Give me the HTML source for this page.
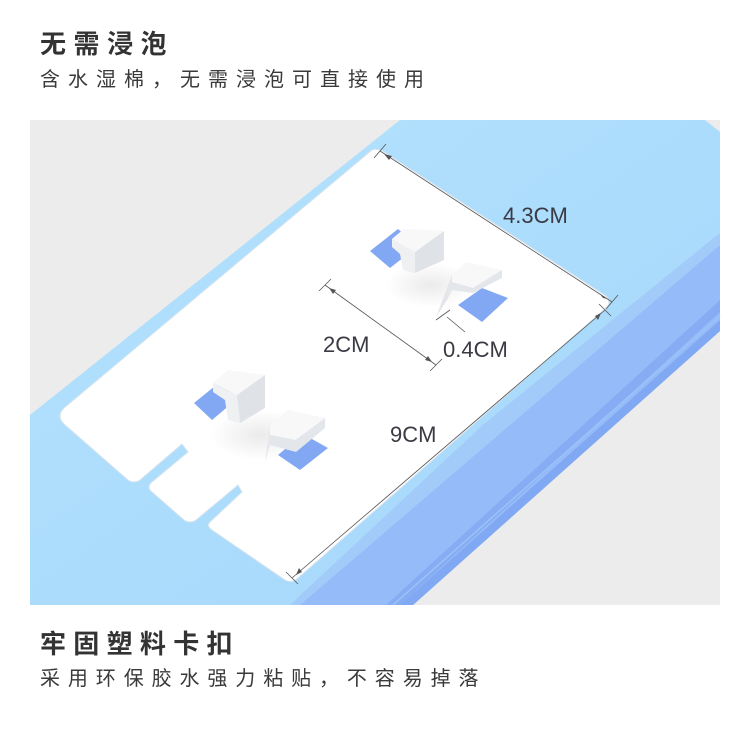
<!DOCTYPE html>
<html><head><meta charset="utf-8"><style>
html,body{margin:0;padding:0;background:#fff;width:750px;height:752px;overflow:hidden;position:relative;font-family:"Liberation Sans","Noto Sans CJK SC",sans-serif;color:#333}
.t{position:absolute;left:40px;font-weight:bold;font-size:26px;line-height:1;white-space:nowrap}
.s{position:absolute;left:40px;font-size:20px;line-height:1;white-space:nowrap;color:#3a3a3a}
svg{position:absolute;left:0;top:0}
</style></head><body>
<svg width="750" height="752" viewBox="0 0 750 752">
<defs>
<linearGradient id="tf" x1="0" y1="0" x2="1" y2="1"><stop offset="0" stop-color="#b3e3fc"/><stop offset="1" stop-color="#a6d6fb"/></linearGradient>
<radialGradient id="sh" cx="0.5" cy="0.5" r="0.5"><stop offset="0" stop-color="#000" stop-opacity="0.08"/><stop offset="1" stop-color="#000" stop-opacity="0"/></radialGradient>
</defs>
<rect x="30" y="120" width="690" height="485" fill="#ececec"/>
<!-- top face -->
<polygon points="400,120 705,120 720,132 720,240 290,605 30,605 30,415" fill="url(#tf)"/>
<!-- side face -->
<polygon points="720,233 720,331 413,605 290,605 483,425" fill="#95bcf8"/>
<polygon points="720,233 720,245 300,605 290,605 483,425" fill="#a3cbfa"/>
<polygon points="720,300 720,312 400,605 386,605" fill="#86adf3"/>
<polygon points="720,320 720,331 413,605 400,605" fill="#81a8f2"/>
<line x1="720" y1="316" x2="393" y2="605" stroke="#9cc2f8" stroke-width="1.5"/>
<!-- plate -->
<path d="M372,150 Q378,148 384,152 L606,296 Q612,302 606,308 L298,578 Q292,584 285,580 L212,530 Q206,526 210,522 L242,492 L238,485 L196,520 Q190,524 184,520 L152,492 Q146,487 152,482 L188,452 L182,444 L140,480 Q134,484 128,480 L64,424 Q56,416 64,408 Z" fill="#fff" stroke="#d8e4ee" stroke-width="1"/>
<!-- shadows -->
<ellipse cx="430" cy="285" rx="45" ry="22" fill="url(#sh)"/>
<ellipse cx="260" cy="435" rx="50" ry="25" fill="url(#sh)"/>
<!-- slots -->
<polygon points="370,251 398,229 418,246 390,268" fill="#82a8f4"/>
<polygon points="458,305 482,288 508,298 482,322" fill="#82a8f4"/>
<polygon points="194,403 220,382 238,398 212,420" fill="#82a8f4"/>
<polygon points="278,455 303,434 328,448 300,470" fill="#82a8f4"/>
<!-- clip 1 -->
<polygon points="392,239 404,229 444,231 415,252 415,273 403,270 400,254 392,247" fill="#eef0f2"/>
<polygon points="415,252 444,231 444,260 415,273" fill="#dfe2e6"/>
<polygon points="392,239 404,229 444,231 415,252" fill="#f8f8f9"/>
<!-- clip 2 -->
<polygon points="436,317 452,275 452,290 447,300" fill="#e4e6ea"/>
<polygon points="452,275 466,262 502,270 473,288 452,282" fill="#f8f8f9"/>
<polygon points="452,282 473,288 502,270 502,278 473,293 452,290" fill="#e3e6ea"/>
<!-- clip 3 -->
<polygon points="213,383 228,370 265,375 237,395" fill="#f8f8f9"/>
<polygon points="237,395 265,375 265,408 240,423" fill="#dfe2e6"/>
<polygon points="213,383 237,395 240,423 228,420 225,400 213,392" fill="#eef0f2"/>
<!-- clip 4 -->
<polygon points="270,425 288,410 325,418 296,440 270,435" fill="#f8f8f9"/>
<polygon points="270,435 296,440 325,418 325,428 296,452 270,445" fill="#e3e6ea"/>
<polygon points="265,462 270,425 270,445" fill="#e6e8eb"/>
<!-- dimension lines -->
<g stroke="#555" stroke-width="0.8" fill="#555">
<line x1="380" y1="151" x2="612" y2="302"/>
<line x1="374" y1="158" x2="386" y2="144"/><line x1="606" y1="309" x2="618" y2="295"/>
<line x1="605" y1="310" x2="292" y2="578"/>
<line x1="599" y1="304" x2="611" y2="316"/><line x1="286" y1="572" x2="298" y2="584"/>
<line x1="325" y1="285" x2="436" y2="365"/>
<line x1="319" y1="291" x2="331" y2="279"/><line x1="430" y1="371" x2="442" y2="359"/>
<line x1="447" y1="317" x2="465" y2="332"/>
<line x1="436" y1="320" x2="450" y2="310"/>
</g>
<g fill="#555">
<polygon points="384,154 392,156 389,160"/>
<polygon points="608,299 600,294 603,298"/>
<polygon points="296,575 299,568 302,572"/>
<polygon points="601,313 598,320 595,316"/>
<polygon points="329,288 336,290 333,294"/>
<polygon points="432,362 425,360 428,356"/>
</g>
<g font-family="Liberation Sans,sans-serif" font-size="22" fill="#3a3a44">
<text x="503" y="223">4.3CM</text>
<text x="323" y="352">2CM</text>
<text x="443" y="357">0.4CM</text>
<text x="390" y="442">9CM</text>
</g>
</svg>
<div class="t" style="top:31px;letter-spacing:7.5px">无需浸泡</div>
<div class="s" style="top:70px;letter-spacing:8px">含水湿棉，无需浸泡可直接使用</div>
<div class="t" style="top:631px;letter-spacing:7.3px">牢固塑料卡扣</div>
<div class="s" style="top:669px;letter-spacing:7.9px">采用环保胶水强力粘贴，不容易掉落</div>
</body></html>
